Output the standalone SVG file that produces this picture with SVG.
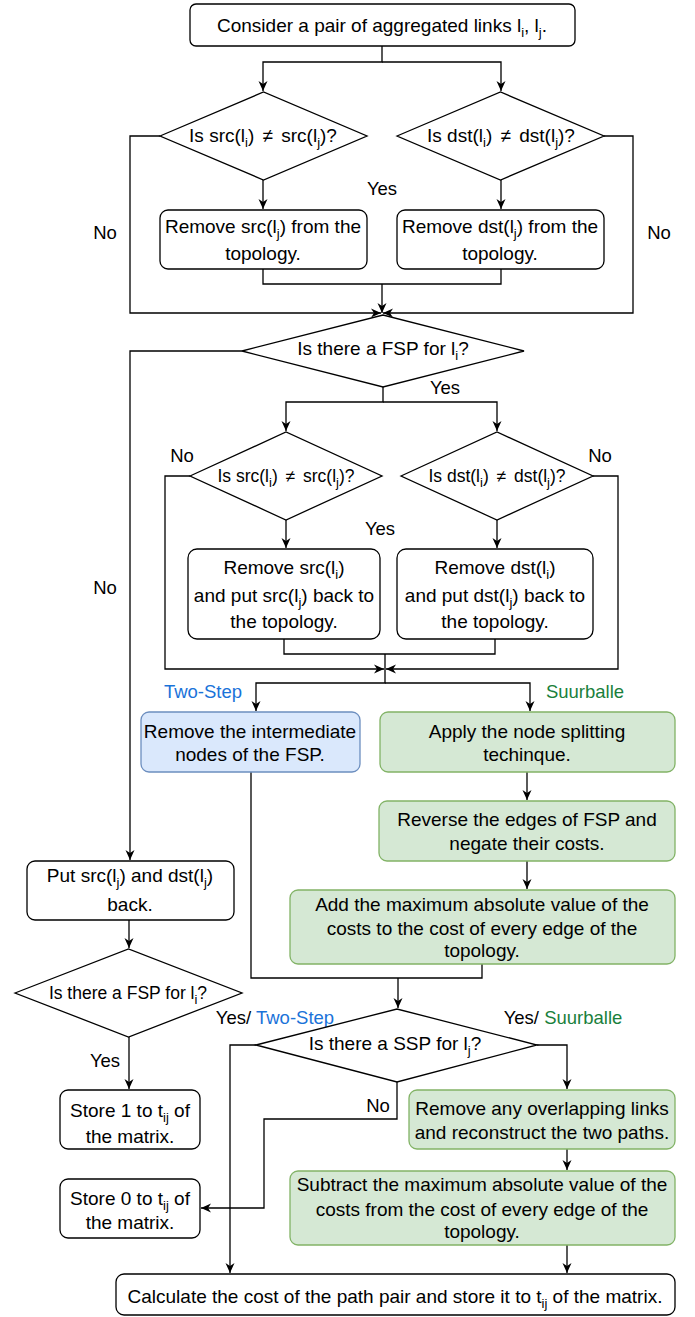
<svg xmlns="http://www.w3.org/2000/svg" width="695" height="1317" viewBox="0 0 695 1317">
<defs>
<style>
.n{fill:#fff;stroke:#000;stroke-width:1.3}
.g{fill:#d5e8d4;stroke:#82b366;stroke-width:1.3}
.b{fill:#dae8fc;stroke:#6c8ebf;stroke-width:1.3}
.t{font-family:"Liberation Sans",Arial,sans-serif;font-size:19px;fill:#000;text-anchor:middle}
.d1{font-size:19px}
.d2{font-size:17.5px}
.l{font-family:"Liberation Sans",Arial,sans-serif;font-size:18.5px;fill:#000;text-anchor:middle}
.s{font-size:13px}
.blue{fill:#1a73d9}
.green{fill:#1a7f3c}
.c path{fill:none;stroke:#000;stroke-width:1.3}
</style>
<marker id="a" viewBox="0 0 10 10" refX="10" refY="5" markerWidth="10" markerHeight="10" markerUnits="userSpaceOnUse" orient="auto">
<path d="M0,0.5 L10,5 L0,9.5 L3,5 z" fill="#000"/>
</marker>
</defs>
<rect width="695" height="1317" fill="#fff"/>
<g class="c">
<path d="M382,46 V62 H263 V91" marker-end="url(#a)"/>
<path d="M382,62 H501 V91" marker-end="url(#a)"/>
<path d="M263,180 V209" marker-end="url(#a)"/>
<path d="M501,180 V209" marker-end="url(#a)"/>
<path d="M263,269 V284 H501 V269"/>
<path d="M382,284 V313" marker-end="url(#a)"/>
<path d="M160,136 H130 V313 H381" marker-end="url(#a)"/>
<path d="M604,136 H633 V313 H383" marker-end="url(#a)"/>
<path d="M242,351 H130 V860" marker-end="url(#a)"/>
<path d="M383,387 V402 H286 V431" marker-end="url(#a)"/>
<path d="M383,402 H497 V431" marker-end="url(#a)"/>
<path d="M286,520 V548" marker-end="url(#a)"/>
<path d="M497,520 V548" marker-end="url(#a)"/>
<path d="M284,639 V654 H495 V639"/>
<path d="M385,654 V683 H256 V711" marker-end="url(#a)"/>
<path d="M385,683 H530 V711" marker-end="url(#a)"/>
<path d="M190,476 H165 V669 H384" marker-end="url(#a)"/>
<path d="M593,476 H618 V669 H386" marker-end="url(#a)"/>
<path d="M527,772 V800" marker-end="url(#a)"/>
<path d="M527,861 V889" marker-end="url(#a)"/>
<path d="M251,772 V978 H482 V964"/>
<path d="M398,978 V1008" marker-end="url(#a)"/>
<path d="M129,920 V948" marker-end="url(#a)"/>
<path d="M129,1037 V1089" marker-end="url(#a)"/>
<path d="M256,1045 H230 V1273" marker-end="url(#a)"/>
<path d="M537,1045 H567 V1089" marker-end="url(#a)"/>
<path d="M567,1149 V1170" marker-end="url(#a)"/>
<path d="M567,1245 V1273" marker-end="url(#a)"/>
<path d="M397,1082 V1119 H264 V1208 H201" marker-end="url(#a)"/>
</g>
<g id="labels">
<text class="l" x="382" y="195">Yes</text>
<text class="l" x="105" y="239">No</text>
<text class="l" x="659" y="239">No</text>
<text class="l" x="445" y="394">Yes</text>
<text class="l" x="182" y="462">No</text>
<text class="l" x="600" y="462">No</text>
<text class="l" x="380" y="535">Yes</text>
<text class="l" x="105" y="594">No</text>
<text class="l blue" x="203" y="698">Two-Step</text>
<text class="l green" x="585" y="698">Suurballe</text>
<text class="l" x="105" y="1067">Yes</text>
<text class="l" x="275" y="1024">Yes/ <tspan class="blue">Two-Step</tspan></text>
<text class="l" x="563" y="1024">Yes/ <tspan class="green">Suurballe</tspan></text>
<text class="l" x="378" y="1112">No</text>
</g>
<g id="start">
<rect class="n" x="190" y="4" width="385" height="42" rx="6"/>
<text class="t" x="382" y="32">Consider a pair of aggregated links l<tspan class="s" dy="5">i</tspan><tspan dy="-5">, l</tspan><tspan class="s" dy="5">j</tspan><tspan dy="-5">.</tspan></text>
</g>
<g id="d-src1">
<polygon class="n" points="160,136 263.5,92 367,136 263.5,180"/>
<text class="t d1" x="263" y="142">Is src(l<tspan class="s" dy="5">i</tspan><tspan dy="-5">)</tspan><tspan dx="3"> ≠ </tspan><tspan dx="3">src(l</tspan><tspan class="s" dy="5">j</tspan><tspan dy="-5">)?</tspan></text>
</g>
<g id="d-dst1">
<polygon class="n" points="397,136 500.5,92 604,136 500.5,180"/>
<text class="t d1" x="501" y="142">Is dst(l<tspan class="s" dy="5">i</tspan><tspan dy="-5">)</tspan><tspan dx="3"> ≠ </tspan><tspan dx="3">dst(l</tspan><tspan class="s" dy="5">j</tspan><tspan dy="-5">)?</tspan></text>
</g>
<g id="rm-src">
<rect class="n" x="160" y="210" width="207" height="59" rx="8"/>
<text class="t" x="263" y="233">Remove src(l<tspan class="s" dy="5">j</tspan><tspan dy="-5">) from the</tspan></text>
<text class="t" x="263" y="260">topology.</text>
</g>
<g id="rm-dst">
<rect class="n" x="397" y="210" width="207" height="59" rx="8"/>
<text class="t" x="500" y="233">Remove dst(l<tspan class="s" dy="5">j</tspan><tspan dy="-5">) from the</tspan></text>
<text class="t" x="500" y="260">topology.</text>
</g>
<g id="d-fsp">
<polygon class="n" points="242,351 383,315 524,351 383,387"/>
<text class="t" x="383" y="355">Is there a FSP for l<tspan class="s" dy="5">i</tspan><tspan dy="-5">?</tspan></text>
</g>
<g id="d-src2">
<polygon class="n" points="190,476 286,432 382,476 286,520"/>
<text class="t d2" x="286" y="482">Is src(l<tspan class="s" dy="5">i</tspan><tspan dy="-5">)</tspan><tspan dx="3"> ≠ </tspan><tspan dx="3">src(l</tspan><tspan class="s" dy="5">j</tspan><tspan dy="-5">)?</tspan></text>
</g>
<g id="d-dst2">
<polygon class="n" points="401,476 497,432 593,476 497,520"/>
<text class="t d2" x="497" y="482">Is dst(l<tspan class="s" dy="5">i</tspan><tspan dy="-5">)</tspan><tspan dx="3"> ≠ </tspan><tspan dx="3">dst(l</tspan><tspan class="s" dy="5">j</tspan><tspan dy="-5">)?</tspan></text>
</g>
<g id="rm-src2">
<rect class="n" x="188" y="549" width="192" height="90" rx="9"/>
<text class="t" x="284" y="574">Remove src(l<tspan class="s" dy="5">i</tspan><tspan dy="-5">)</tspan></text>
<text class="t" x="284" y="602">and put src(l<tspan class="s" dy="5">j</tspan><tspan dy="-5">) back to</tspan></text>
<text class="t" x="284" y="628">the topology.</text>
</g>
<g id="rm-dst2">
<rect class="n" x="397" y="549" width="196" height="90" rx="9"/>
<text class="t" x="495" y="574">Remove dst(l<tspan class="s" dy="5">i</tspan><tspan dy="-5">)</tspan></text>
<text class="t" x="495" y="602">and put dst(l<tspan class="s" dy="5">j</tspan><tspan dy="-5">) back to</tspan></text>
<text class="t" x="495" y="628">the topology.</text>
</g>
<g id="two-step">
<rect class="b" x="141" y="712" width="219" height="60" rx="8"/>
<text class="t" x="250" y="738">Remove the intermediate</text>
<text class="t" x="250" y="761">nodes of the FSP.</text>
</g>
<g id="split">
<rect class="g" x="380" y="712" width="295" height="60" rx="8"/>
<text class="t" x="527" y="738">Apply the node splitting</text>
<text class="t" x="527" y="761">techinque.</text>
</g>
<g id="reverse">
<rect class="g" x="379" y="801" width="296" height="60" rx="8"/>
<text class="t" x="527" y="826">Reverse the edges of FSP and</text>
<text class="t" x="527" y="850">negate their costs.</text>
</g>
<g id="add">
<rect class="g" x="290" y="890" width="385" height="74" rx="8"/>
<text class="t" x="482" y="911">Add the maximum absolute value of the</text>
<text class="t" x="482" y="935">costs to the cost of every edge of the</text>
<text class="t" x="482" y="957">topology.</text>
</g>
<g id="put-back">
<rect class="n" x="27" y="861" width="207" height="59" rx="8"/>
<text class="t" x="130" y="882">Put src(l<tspan class="s" dy="5">j</tspan><tspan dy="-5">) and dst(l</tspan><tspan class="s" dy="5">j</tspan><tspan dy="-5">)</tspan></text>
<text class="t" x="130" y="911">back.</text>
</g>
<g id="d-fsp2">
<polygon class="n" points="15,993 128.5,949 242,993 128.5,1037"/>
<text class="t d2" x="128" y="999">Is there a FSP for l<tspan class="s" dy="5">i</tspan><tspan dy="-5">?</tspan></text>
</g>
<g id="store1">
<rect class="n" x="60" y="1090" width="140" height="59" rx="8"/>
<text class="t" x="130" y="1117">Store 1 to t<tspan class="s" dy="5">ij</tspan><tspan dy="-5"> of</tspan></text>
<text class="t" x="130" y="1143">the matrix.</text>
</g>
<g id="store0">
<rect class="n" x="60" y="1179" width="140" height="59" rx="8"/>
<text class="t" x="130" y="1205">Store 0 to t<tspan class="s" dy="5">ij</tspan><tspan dy="-5"> of</tspan></text>
<text class="t" x="130" y="1229">the matrix.</text>
</g>
<g id="d-ssp">
<polygon class="n" points="256,1045 397,1009 537,1045 397,1082"/>
<text class="t" x="395" y="1050">Is there a SSP for l<tspan class="s" dy="5">j</tspan><tspan dy="-5">?</tspan></text>
</g>
<g id="overlap">
<rect class="g" x="409" y="1090" width="266" height="59" rx="8"/>
<text class="t" x="542" y="1115">Remove any overlapping links</text>
<text class="t" x="542" y="1139">and reconstruct the two paths.</text>
</g>
<g id="subtract">
<rect class="g" x="290" y="1171" width="385" height="74" rx="8"/>
<text class="t" x="482" y="1191">Subtract the maximum absolute value of the</text>
<text class="t" x="482" y="1216">costs from the cost of every edge of the</text>
<text class="t" x="482" y="1238">topology.</text>
</g>
<g id="calc">
<rect class="n" x="116" y="1274" width="559" height="41" rx="8"/>
<text class="t" x="395" y="1303">Calculate the cost of the path pair and store it to t<tspan class="s" dy="5">ij</tspan><tspan dy="-5"> of the matrix.</tspan></text>
</g>
</svg>
